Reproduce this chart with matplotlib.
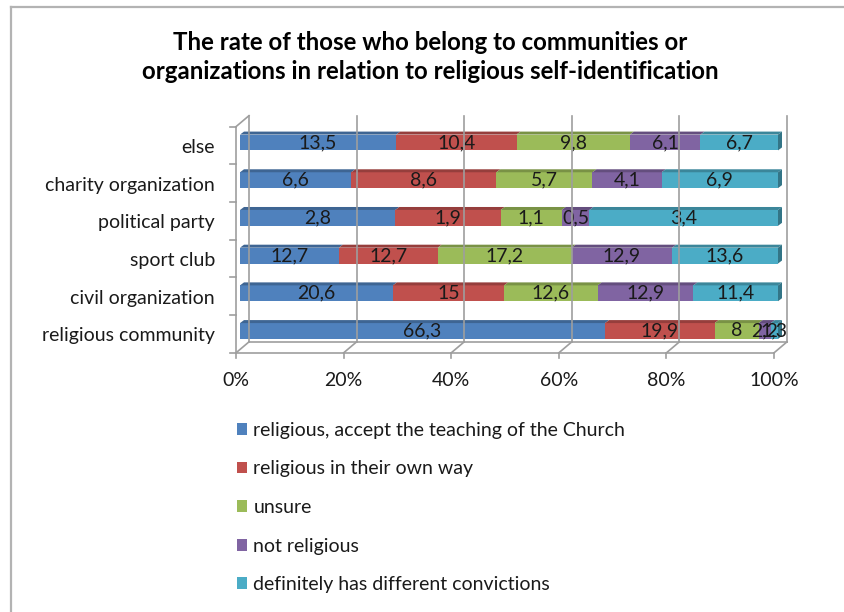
import matplotlib
matplotlib.use("Agg")
import matplotlib.pyplot as plt
from matplotlib.patches import Polygon
from matplotlib.lines import Line2D
from matplotlib.transforms import ScaledTranslation
from matplotlib.colors import to_rgb

plt.rcParams['font.family'] = ['Lato', 'DejaVu Sans']

# ---- data -------------------------------------------------------------
categories = ["religious community", "civil organization", "sport club",
              "political party", "charity organization", "else"]
series_names = ["religious, accept the teaching of the Church",
                "religious in their own way",
                "unsure",
                "not religious",
                "definitely has different convictions"]
accept_church = [66.3, 20.6, 12.7, 2.8, 6.6, 13.5]
own_way = [19.9, 15, 12.7, 1.9, 8.6, 10.4]
unsure = [8, 12.6, 17.2, 1.1, 5.7, 9.8]
not_religious = [2.2, 12.9, 12.9, 0.5, 4.1, 6.1]
different = [1.3, 11.4, 13.6, 3.4, 6.9, 6.7]
x_ticks = [0, 20, 40, 60, 80, 100]
x_tick_labels = ["0%", "20%", "40%", "60%", "80%", "100%"]
title = ("The rate of those who belong to communities or\n"
         "organizations in relation to religious self-identification")

series = [accept_church, own_way, unsure, not_religious, different]
colors = ["#4F81BD", "#C0504D", "#9BBB59", "#8064A2", "#4BACC6"]

# ---- figure -----------------------------------------------------------
W, H, DPI = 844, 612, 100
fig = plt.figure(figsize=(W / DPI, H / DPI), dpi=DPI)
fig.patch.set_facecolor("white")


def fx(px):
    return px / W


def fy(py):
    return 1 - py / H


# outer chart-area border (left and top edges)
border_col = "#b3b3b3"
fig.add_artist(Line2D([fx(11), fx(11)], [fy(7), 0], color=border_col, lw=1.6))
fig.add_artist(Line2D([fx(11), 1], [fy(7), fy(7)], color=border_col, lw=1.6))

fig.text(fx(430), fy(57), title, ha="center", va="center", fontsize=17.3,
         fontweight="bold", color="#000000", linespacing=1.35)

# plot plane for the bars
ax_left, ax_right = 240, 778
ax_top, ax_bot = 123.65, 349.85
ax = fig.add_axes([fx(ax_left), fy(ax_bot), (ax_right - ax_left) / W,
                   (ax_bot - ax_top) / H])
ax.set_xlim(0, 100)
ax.set_ylim(-0.5, len(categories) - 0.5)
ax.axis("off")


def shift(dx_px, dy_px):
    return ScaledTranslation(dx_px / DPI, dy_px / DPI, fig.dpi_scale_trans)


front = ax.transData + shift(-4, -3)
back = ax.transData + shift(9, 8)
grid_col = "#9e9e9e"
glw = 1.2
y0, y1 = -0.5, len(categories) - 0.5


def pix_line(a, b, z=0.5):
    fig.add_artist(Line2D([a[0], b[0]], [a[1], b[1]], transform=None,
                          color=grid_col, lw=glw, zorder=z))


fig.canvas.draw()

# back wall gridlines and floor slants
for t in x_ticks:
    if t > 0:
        pix_line(back.transform((t, y0)), back.transform((t, y1)))
    pix_line(front.transform((t, y0)), back.transform((t, y0)))
# back left wall edge
pix_line(back.transform((0, y0)), back.transform((0, y1)))
# floor edges
pix_line(back.transform((0, y0)), back.transform((100, y0)))
pix_line(front.transform((0, y0)), front.transform((100, y0)), z=3)
# front left axis line and top slant
pix_line(front.transform((0, y0)), front.transform((0, y1)), z=3)
pix_line(front.transform((0, y1)), back.transform((0, y1)))
for i in range(len(categories) + 1):
    p = front.transform((0, i - 0.5))
    pix_line((p[0] - 6, p[1]), p, z=3)
for t, lab in zip(x_ticks, x_tick_labels):
    p = front.transform((t, y0))
    pix_line(p, (p[0], p[1] - 5), z=3)
    fig.text(p[0] / W, (p[1] - 28) / H, lab, ha="center", va="center",
             fontsize=14, color="#1a1a1a")

# category labels
for i, cat in enumerate(categories):
    ax.annotate(cat, xy=(0, i), xycoords="data", xytext=(-25, -5),
                textcoords="offset pixels", ha="right", va="center",
                fontsize=14, color="#1a1a1a")

# ---- 3D stacked bars --------------------------------------------------
bar_h = 0.42
px_x = (ax_right - ax_left) / 100.0
px_y = (ax_bot - ax_top) / len(categories)
ddx = 4 / px_x
ddy = 3 / px_y


def shade(c, f):
    r, g, b = to_rgb(c)
    return (r * f, g * f, b * f)


handles = []
for i in range(len(categories)):
    total = sum(s[i] for s in series)
    left = 0.0
    for k, s in enumerate(series):
        w = s[i] / total * 100
        bars = ax.barh(i, w, left=left, height=bar_h, color=colors[k],
                       edgecolor="none", zorder=2)
        if i == 0:
            handles.append(bars)
        top = i + bar_h / 2
        ax.add_patch(Polygon([(left, top), (left + w, top),
                              (left + w + ddx, top + ddy),
                              (left + ddx, top + ddy)],
                             closed=True, facecolor=shade(colors[k], 0.78),
                             edgecolor="none", zorder=2, clip_on=False))
        if k == len(series) - 1:
            bot = i - bar_h / 2
            ax.add_patch(Polygon([(left + w, bot), (left + w, top),
                                  (left + w + ddx, top + ddy),
                                  (left + w + ddx, bot + ddy)],
                                 closed=True, facecolor=shade(colors[k], 0.68),
                                 edgecolor="none", zorder=2, clip_on=False))
        txt = f"{s[i]:g}".replace(".", ",")
        ax.text(left + w / 2, i, txt, ha="center", va="center", fontsize=14,
                color="#1a1a1a", zorder=4)
        left += w

fig.legend(handles, series_names, loc="upper left",
           bbox_to_anchor=(fx(229), fy(414)), frameon=False, fontsize=14,
           handlelength=0.55, handleheight=0.55, handletextpad=0.3,
           labelspacing=1.11, labelcolor="#1a1a1a", borderaxespad=0)

fig.savefig("out.png", dpi=DPI, facecolor="white")
